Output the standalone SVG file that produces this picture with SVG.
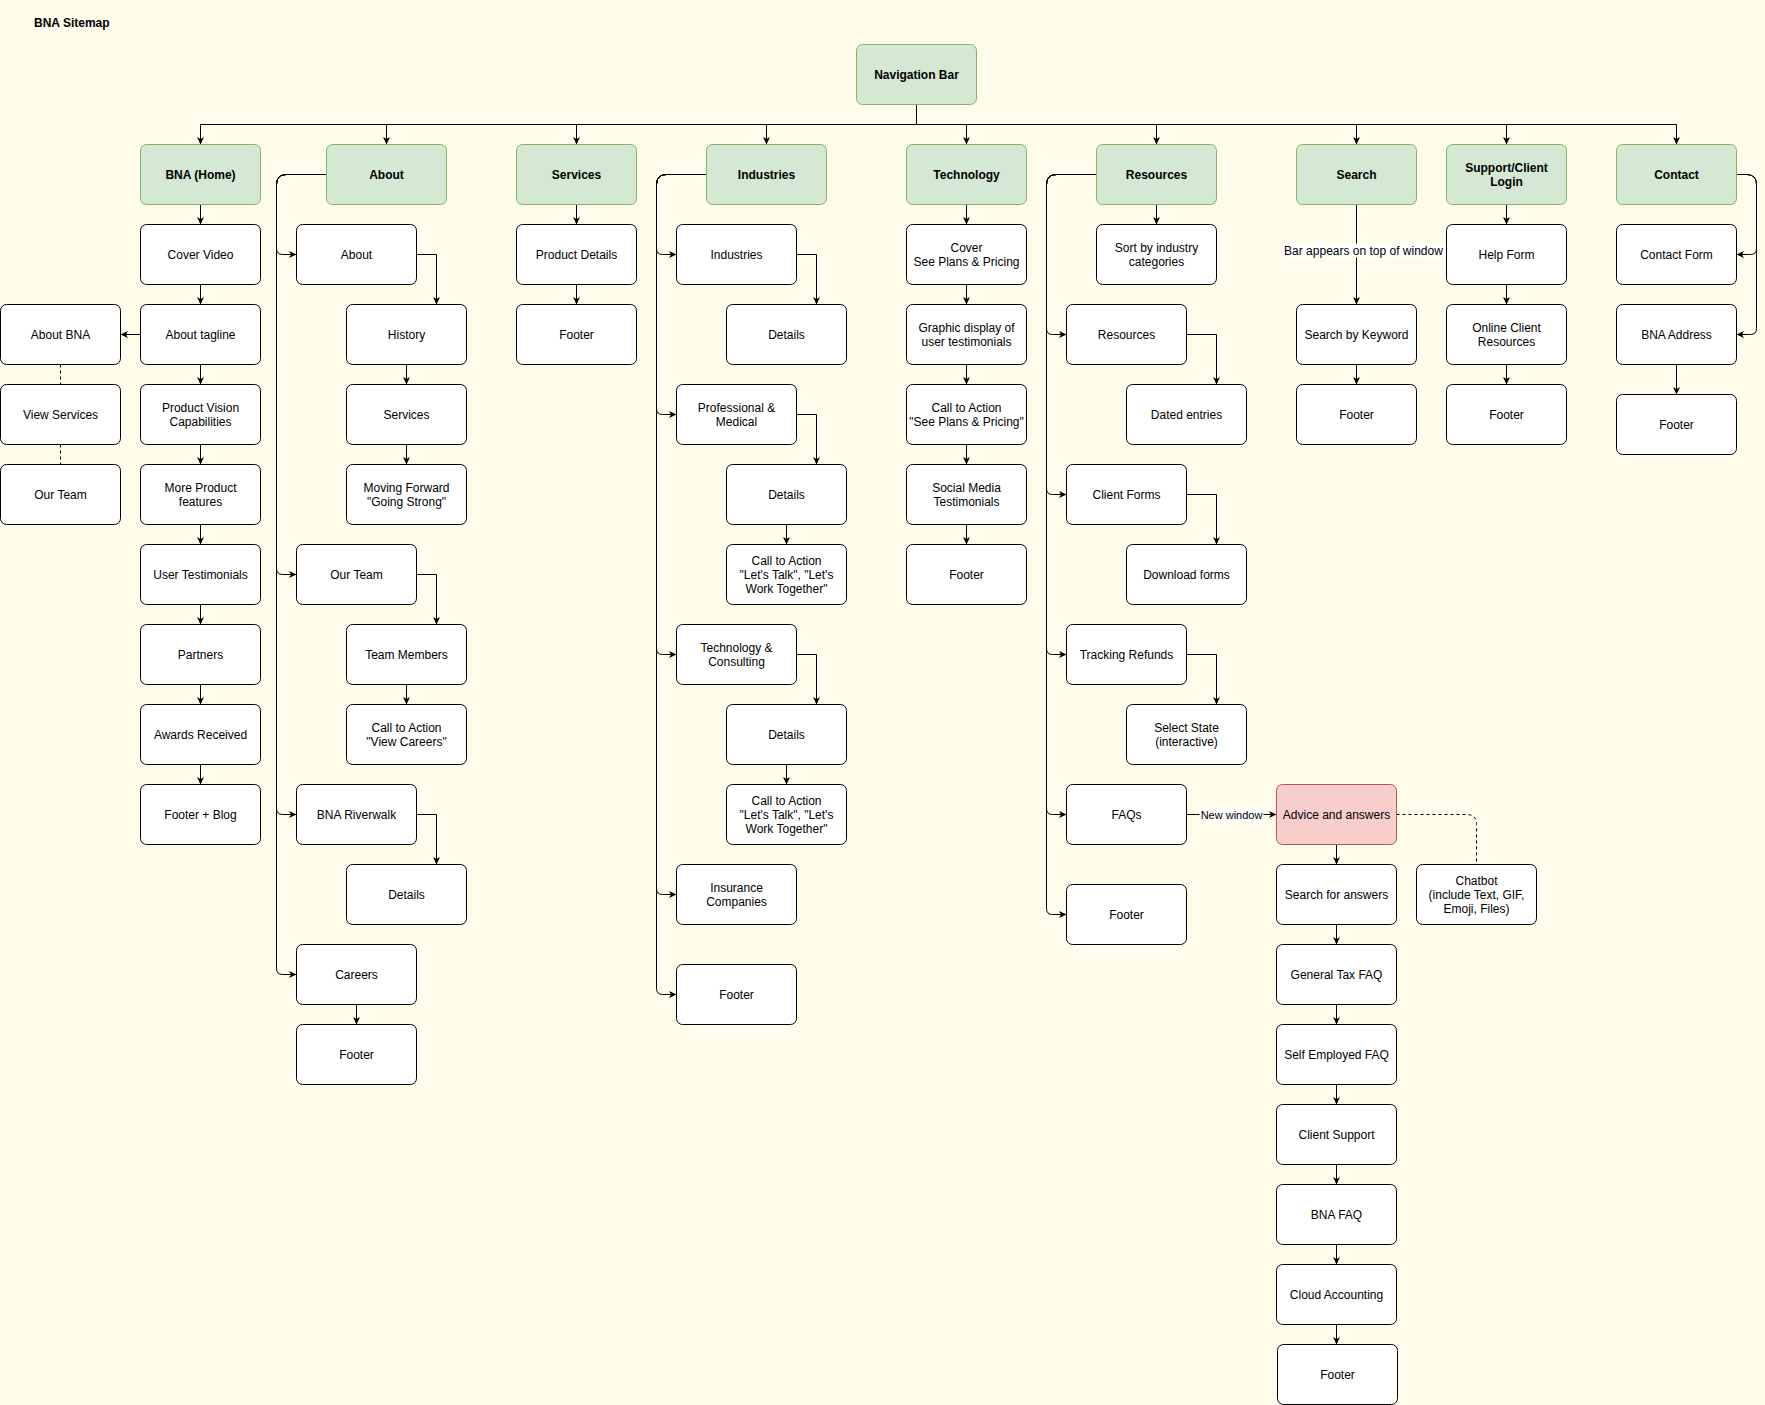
<svg xmlns="http://www.w3.org/2000/svg" width="1765" height="1405" viewBox="0 0 1765 1405">
<style>
.n{fill:#fff;stroke:#000;stroke-width:1}
.h{fill:#d5e8d4;stroke:#82b366;stroke-width:1}
.r{fill:#f8cecc;stroke:#b85450;stroke-width:1}
text{font-family:"Liberation Sans",Arial,Helvetica,sans-serif;font-size:12px;fill:#000;text-anchor:middle}
.b{font-weight:bold}
.e{fill:none;stroke:#000;stroke-width:1}
.d{fill:none;stroke:#000;stroke-width:1;stroke-dasharray:3,3}
.lbl{fill:#fff;stroke:none}
</style>
<defs>
<marker id="a" markerUnits="userSpaceOnUse" markerWidth="10" markerHeight="10" refX="8" refY="4" orient="auto">
<path d="M0.5,0.5 L8,4 L0.5,7.5 L2.5,4 Z" fill="#000"/>
</marker>
</defs>
<rect x="0" y="0" width="1765" height="1405" fill="#fffcec"/>
<text x="34" y="27" class="b" style="text-anchor:start">BNA Sitemap</text>
<g transform="translate(0.5,0.5)">
<g id="connectors">
<path class="e" marker-end="url(#a)" d="M916,104V124H200V144"/>
<path class="e" marker-end="url(#a)" d="M916,104V124H386V144"/>
<path class="e" marker-end="url(#a)" d="M916,104V124H576V144"/>
<path class="e" marker-end="url(#a)" d="M916,104V124H766V144"/>
<path class="e" marker-end="url(#a)" d="M916,104V124H966V144"/>
<path class="e" marker-end="url(#a)" d="M916,104V124H1156V144"/>
<path class="e" marker-end="url(#a)" d="M916,104V124H1356V144"/>
<path class="e" marker-end="url(#a)" d="M916,104V124H1506V144"/>
<path class="e" marker-end="url(#a)" d="M916,104V124H1676V144"/>
<!-- Home column -->
<path class="e" marker-end="url(#a)" d="M200,204V224"/>
<path class="e" marker-end="url(#a)" d="M200,284V304"/>
<path class="e" marker-end="url(#a)" d="M200,364V384"/>
<path class="e" marker-end="url(#a)" d="M200,444V464"/>
<path class="e" marker-end="url(#a)" d="M200,524V544"/>
<path class="e" marker-end="url(#a)" d="M200,604V624"/>
<path class="e" marker-end="url(#a)" d="M200,684V704"/>
<path class="e" marker-end="url(#a)" d="M200,764V784"/>
<path class="e" marker-end="url(#a)" d="M140,334H120"/>
<path class="d" d="M60,364V384"/>
<path class="d" d="M60,444V464"/>
<!-- About column -->
<path class="e" marker-end="url(#a)" d="M326,174H286Q276,174 276,184V248Q276,254 282,254H296"/>
<path class="e" marker-end="url(#a)" d="M326,174H286Q276,174 276,184V568Q276,574 282,574H296"/>
<path class="e" marker-end="url(#a)" d="M326,174H286Q276,174 276,184V808Q276,814 282,814H296"/>
<path class="e" marker-end="url(#a)" d="M326,174H286Q276,174 276,184V968Q276,974 282,974H296"/>
<path class="e" marker-end="url(#a)" d="M416,254H436V304"/>
<path class="e" marker-end="url(#a)" d="M406,364V384"/>
<path class="e" marker-end="url(#a)" d="M406,444V464"/>
<path class="e" marker-end="url(#a)" d="M416,574H436V624"/>
<path class="e" marker-end="url(#a)" d="M406,684V704"/>
<path class="e" marker-end="url(#a)" d="M416,814H436V864"/>
<path class="e" marker-end="url(#a)" d="M356,1004V1024"/>
<!-- Services -->
<path class="e" marker-end="url(#a)" d="M576,204V224"/>
<path class="e" marker-end="url(#a)" d="M576,284V304"/>
<!-- Industries -->
<path class="e" marker-end="url(#a)" d="M706,174H666Q656,174 656,184V248Q656,254 662,254H676"/>
<path class="e" marker-end="url(#a)" d="M706,174H666Q656,174 656,184V408Q656,414 662,414H676"/>
<path class="e" marker-end="url(#a)" d="M706,174H666Q656,174 656,184V648Q656,654 662,654H676"/>
<path class="e" marker-end="url(#a)" d="M706,174H666Q656,174 656,184V888Q656,894 662,894H676"/>
<path class="e" marker-end="url(#a)" d="M706,174H666Q656,174 656,184V988Q656,994 662,994H676"/>
<path class="e" marker-end="url(#a)" d="M796,254H816V304"/>
<path class="e" marker-end="url(#a)" d="M796,414H816V464"/>
<path class="e" marker-end="url(#a)" d="M786,524V544"/>
<path class="e" marker-end="url(#a)" d="M796,654H816V704"/>
<path class="e" marker-end="url(#a)" d="M786,764V784"/>
<!-- Technology -->
<path class="e" marker-end="url(#a)" d="M966,204V224"/>
<path class="e" marker-end="url(#a)" d="M966,284V304"/>
<path class="e" marker-end="url(#a)" d="M966,364V384"/>
<path class="e" marker-end="url(#a)" d="M966,444V464"/>
<path class="e" marker-end="url(#a)" d="M966,524V544"/>
<!-- Resources -->
<path class="e" marker-end="url(#a)" d="M1156,204V224"/>
<path class="e" marker-end="url(#a)" d="M1096,174H1056Q1046,174 1046,184V328Q1046,334 1052,334H1066"/>
<path class="e" marker-end="url(#a)" d="M1096,174H1056Q1046,174 1046,184V488Q1046,494 1052,494H1066"/>
<path class="e" marker-end="url(#a)" d="M1096,174H1056Q1046,174 1046,184V648Q1046,654 1052,654H1066"/>
<path class="e" marker-end="url(#a)" d="M1096,174H1056Q1046,174 1046,184V808Q1046,814 1052,814H1066"/>
<path class="e" marker-end="url(#a)" d="M1096,174H1056Q1046,174 1046,184V908Q1046,914 1052,914H1066"/>
<path class="e" marker-end="url(#a)" d="M1186,334H1216V384"/>
<path class="e" marker-end="url(#a)" d="M1186,494H1216V544"/>
<path class="e" marker-end="url(#a)" d="M1186,654H1216V704"/>
<path class="e" marker-end="url(#a)" d="M1186,814H1276"/>
<rect class="lbl" x="1199" y="807" width="64" height="14"/>
<text x="1231" y="818" style="font-size:11px">New window</text>
<path class="d" d="M1396,814H1466Q1476,814 1476,824V864"/>
<path class="e" marker-end="url(#a)" d="M1336,844V864"/>
<path class="e" marker-end="url(#a)" d="M1336,924V944"/>
<path class="e" marker-end="url(#a)" d="M1336,1004V1024"/>
<path class="e" marker-end="url(#a)" d="M1336,1084V1104"/>
<path class="e" marker-end="url(#a)" d="M1336,1164V1184"/>
<path class="e" marker-end="url(#a)" d="M1336,1244V1264"/>
<path class="e" marker-end="url(#a)" d="M1336,1324V1344"/>
<!-- Search -->
<path class="e" marker-end="url(#a)" d="M1356,204V304"/>
<rect class="lbl" x="1282" y="243" width="163" height="14"/>
<text x="1363" y="254">Bar appears on top of window</text>
<path class="e" marker-end="url(#a)" d="M1356,364V384"/>
<!-- Support -->
<path class="e" marker-end="url(#a)" d="M1506,204V224"/>
<path class="e" marker-end="url(#a)" d="M1506,284V304"/>
<path class="e" marker-end="url(#a)" d="M1506,364V384"/>
<!-- Contact -->
<path class="e" marker-end="url(#a)" d="M1736,174H1746Q1756,174 1756,184V248Q1756,254 1750,254H1736"/>
<path class="e" marker-end="url(#a)" d="M1736,174H1746Q1756,174 1756,184V328Q1756,334 1750,334H1736"/>
<path class="e" marker-end="url(#a)" d="M1676,364V394"/>
</g>

<g id="nav"><rect class="h" x="856" y="44" width="120" height="60" rx="6"/><text class="b" x="916" y="78">Navigation Bar</text></g>
<g id="home"><rect class="h" x="140" y="144" width="120" height="60" rx="6"/><text class="b" x="200" y="178">BNA (Home)</text></g>
<g id="about"><rect class="h" x="326" y="144" width="120" height="60" rx="6"/><text class="b" x="386" y="178">About</text></g>
<g id="services"><rect class="h" x="516" y="144" width="120" height="60" rx="6"/><text class="b" x="576" y="178">Services</text></g>
<g id="industries"><rect class="h" x="706" y="144" width="120" height="60" rx="6"/><text class="b" x="766" y="178">Industries</text></g>
<g id="technology"><rect class="h" x="906" y="144" width="120" height="60" rx="6"/><text class="b" x="966" y="178">Technology</text></g>
<g id="resources"><rect class="h" x="1096" y="144" width="120" height="60" rx="6"/><text class="b" x="1156" y="178">Resources</text></g>
<g id="search"><rect class="h" x="1296" y="144" width="120" height="60" rx="6"/><text class="b" x="1356" y="178">Search</text></g>
<g id="support"><rect class="h" x="1446" y="144" width="120" height="60" rx="6"/><text class="b" x="1506" y="171">Support/Client</text><text class="b" x="1506" y="185">Login</text></g>
<g id="contact"><rect class="h" x="1616" y="144" width="120" height="60" rx="6"/><text class="b" x="1676" y="178">Contact</text></g>

<g id="home-cover"><rect class="n" x="140" y="224" width="120" height="60" rx="6"/><text x="200" y="258">Cover Video</text></g>
<g id="home-tagline"><rect class="n" x="140" y="304" width="120" height="60" rx="6"/><text x="200" y="338">About tagline</text></g>
<g id="home-vision"><rect class="n" x="140" y="384" width="120" height="60" rx="6"/><text x="200" y="411">Product Vision</text><text x="200" y="425">Capabilities</text></g>
<g id="home-more"><rect class="n" x="140" y="464" width="120" height="60" rx="6"/><text x="200" y="491">More Product</text><text x="200" y="505">features</text></g>
<g id="home-testimonials"><rect class="n" x="140" y="544" width="120" height="60" rx="6"/><text x="200" y="578">User Testimonials</text></g>
<g id="home-partners"><rect class="n" x="140" y="624" width="120" height="60" rx="6"/><text x="200" y="658">Partners</text></g>
<g id="home-awards"><rect class="n" x="140" y="704" width="120" height="60" rx="6"/><text x="200" y="738">Awards Received</text></g>
<g id="home-footer"><rect class="n" x="140" y="784" width="120" height="60" rx="6"/><text x="200" y="818">Footer + Blog</text></g>
<g id="about-bna"><rect class="n" x="0" y="304" width="120" height="60" rx="6"/><text x="60" y="338">About BNA</text></g>
<g id="view-services"><rect class="n" x="0" y="384" width="120" height="60" rx="6"/><text x="60" y="418">View Services</text></g>
<g id="our-team-l"><rect class="n" x="0" y="464" width="120" height="60" rx="6"/><text x="60" y="498">Our Team</text></g>

<g id="about-about"><rect class="n" x="296" y="224" width="120" height="60" rx="6"/><text x="356" y="258">About</text></g>
<g id="about-history"><rect class="n" x="346" y="304" width="120" height="60" rx="6"/><text x="406" y="338">History</text></g>
<g id="about-services"><rect class="n" x="346" y="384" width="120" height="60" rx="6"/><text x="406" y="418">Services</text></g>
<g id="about-moving"><rect class="n" x="346" y="464" width="120" height="60" rx="6"/><text x="406" y="491">Moving Forward</text><text x="406" y="505">"Going Strong"</text></g>
<g id="about-team"><rect class="n" x="296" y="544" width="120" height="60" rx="6"/><text x="356" y="578">Our Team</text></g>
<g id="about-members"><rect class="n" x="346" y="624" width="120" height="60" rx="6"/><text x="406" y="658">Team Members</text></g>
<g id="about-cta"><rect class="n" x="346" y="704" width="120" height="60" rx="6"/><text x="406" y="731">Call to Action</text><text x="406" y="745">"View Careers"</text></g>
<g id="about-riverwalk"><rect class="n" x="296" y="784" width="120" height="60" rx="6"/><text x="356" y="818">BNA Riverwalk</text></g>
<g id="about-details"><rect class="n" x="346" y="864" width="120" height="60" rx="6"/><text x="406" y="898">Details</text></g>
<g id="about-careers"><rect class="n" x="296" y="944" width="120" height="60" rx="6"/><text x="356" y="978">Careers</text></g>
<g id="about-footer"><rect class="n" x="296" y="1024" width="120" height="60" rx="6"/><text x="356" y="1058">Footer</text></g>

<g id="services-product"><rect class="n" x="516" y="224" width="120" height="60" rx="6"/><text x="576" y="258">Product Details</text></g>
<g id="services-footer"><rect class="n" x="516" y="304" width="120" height="60" rx="6"/><text x="576" y="338">Footer</text></g>

<g id="ind-industries"><rect class="n" x="676" y="224" width="120" height="60" rx="6"/><text x="736" y="258">Industries</text></g>
<g id="ind-details1"><rect class="n" x="726" y="304" width="120" height="60" rx="6"/><text x="786" y="338">Details</text></g>
<g id="ind-prof"><rect class="n" x="676" y="384" width="120" height="60" rx="6"/><text x="736" y="411">Professional &amp;</text><text x="736" y="425">Medical</text></g>
<g id="ind-details2"><rect class="n" x="726" y="464" width="120" height="60" rx="6"/><text x="786" y="498">Details</text></g>
<g id="ind-cta1"><rect class="n" x="726" y="544" width="120" height="60" rx="6"/><text x="786" y="564">Call to Action</text><text x="786" y="578">"Let's Talk", "Let's</text><text x="786" y="592">Work Together"</text></g>
<g id="ind-tech"><rect class="n" x="676" y="624" width="120" height="60" rx="6"/><text x="736" y="651">Technology &amp;</text><text x="736" y="665">Consulting</text></g>
<g id="ind-details3"><rect class="n" x="726" y="704" width="120" height="60" rx="6"/><text x="786" y="738">Details</text></g>
<g id="ind-cta2"><rect class="n" x="726" y="784" width="120" height="60" rx="6"/><text x="786" y="804">Call to Action</text><text x="786" y="818">"Let's Talk", "Let's</text><text x="786" y="832">Work Together"</text></g>
<g id="ind-insurance"><rect class="n" x="676" y="864" width="120" height="60" rx="6"/><text x="736" y="891">Insurance</text><text x="736" y="905">Companies</text></g>
<g id="ind-footer"><rect class="n" x="676" y="964" width="120" height="60" rx="6"/><text x="736" y="998">Footer</text></g>

<g id="tech-cover"><rect class="n" x="906" y="224" width="120" height="60" rx="6"/><text x="966" y="251">Cover</text><text x="966" y="265">See Plans &amp; Pricing</text></g>
<g id="tech-graphic"><rect class="n" x="906" y="304" width="120" height="60" rx="6"/><text x="966" y="331">Graphic display of</text><text x="966" y="345">user testimonials</text></g>
<g id="tech-cta"><rect class="n" x="906" y="384" width="120" height="60" rx="6"/><text x="966" y="411">Call to Action</text><text x="966" y="425">"See Plans &amp; Pricing"</text></g>
<g id="tech-social"><rect class="n" x="906" y="464" width="120" height="60" rx="6"/><text x="966" y="491">Social Media</text><text x="966" y="505">Testimonials</text></g>
<g id="tech-footer"><rect class="n" x="906" y="544" width="120" height="60" rx="6"/><text x="966" y="578">Footer</text></g>

<g id="res-sort"><rect class="n" x="1096" y="224" width="120" height="60" rx="6"/><text x="1156" y="251">Sort by industry</text><text x="1156" y="265">categories</text></g>
<g id="res-resources"><rect class="n" x="1066" y="304" width="120" height="60" rx="6"/><text x="1126" y="338">Resources</text></g>
<g id="res-dated"><rect class="n" x="1126" y="384" width="120" height="60" rx="6"/><text x="1186" y="418">Dated entries</text></g>
<g id="res-forms"><rect class="n" x="1066" y="464" width="120" height="60" rx="6"/><text x="1126" y="498">Client Forms</text></g>
<g id="res-download"><rect class="n" x="1126" y="544" width="120" height="60" rx="6"/><text x="1186" y="578">Download forms</text></g>
<g id="res-tracking"><rect class="n" x="1066" y="624" width="120" height="60" rx="6"/><text x="1126" y="658">Tracking Refunds</text></g>
<g id="res-state"><rect class="n" x="1126" y="704" width="120" height="60" rx="6"/><text x="1186" y="731">Select State</text><text x="1186" y="745">(interactive)</text></g>
<g id="res-faqs"><rect class="n" x="1066" y="784" width="120" height="60" rx="6"/><text x="1126" y="818">FAQs</text></g>
<g id="res-footer"><rect class="n" x="1066" y="884" width="120" height="60" rx="6"/><text x="1126" y="918">Footer</text></g>

<g id="advice"><rect class="r" x="1276" y="784" width="120" height="60" rx="6"/><text x="1336" y="818">Advice and answers</text></g>
<g id="chatbot"><rect class="n" x="1416" y="864" width="120" height="60" rx="6"/><text x="1476" y="884">Chatbot</text><text x="1476" y="898">(include Text, GIF,</text><text x="1476" y="912">Emoji, Files)</text></g>
<g id="adv-search"><rect class="n" x="1276" y="864" width="120" height="60" rx="6"/><text x="1336" y="898">Search for answers</text></g>
<g id="adv-tax"><rect class="n" x="1276" y="944" width="120" height="60" rx="6"/><text x="1336" y="978">General Tax FAQ</text></g>
<g id="adv-self"><rect class="n" x="1276" y="1024" width="120" height="60" rx="6"/><text x="1336" y="1058">Self Employed FAQ</text></g>
<g id="adv-support"><rect class="n" x="1276" y="1104" width="120" height="60" rx="6"/><text x="1336" y="1138">Client Support</text></g>
<g id="adv-bnafaq"><rect class="n" x="1276" y="1184" width="120" height="60" rx="6"/><text x="1336" y="1218">BNA FAQ</text></g>
<g id="adv-cloud"><rect class="n" x="1276" y="1264" width="120" height="60" rx="6"/><text x="1336" y="1298">Cloud Accounting</text></g>
<g id="adv-footer"><rect class="n" x="1277" y="1344" width="120" height="60" rx="6"/><text x="1337" y="1378">Footer</text></g>

<g id="search-keyword"><rect class="n" x="1296" y="304" width="120" height="60" rx="6"/><text x="1356" y="338">Search by Keyword</text></g>
<g id="search-footer"><rect class="n" x="1296" y="384" width="120" height="60" rx="6"/><text x="1356" y="418">Footer</text></g>

<g id="sup-help"><rect class="n" x="1446" y="224" width="120" height="60" rx="6"/><text x="1506" y="258">Help Form</text></g>
<g id="sup-online"><rect class="n" x="1446" y="304" width="120" height="60" rx="6"/><text x="1506" y="331">Online Client</text><text x="1506" y="345">Resources</text></g>
<g id="sup-footer"><rect class="n" x="1446" y="384" width="120" height="60" rx="6"/><text x="1506" y="418">Footer</text></g>

<g id="con-form"><rect class="n" x="1616" y="224" width="120" height="60" rx="6"/><text x="1676" y="258">Contact Form</text></g>
<g id="con-address"><rect class="n" x="1616" y="304" width="120" height="60" rx="6"/><text x="1676" y="338">BNA Address</text></g>
<g id="con-footer"><rect class="n" x="1616" y="394" width="120" height="60" rx="6"/><text x="1676" y="428">Footer</text></g>
</g>
</svg>
